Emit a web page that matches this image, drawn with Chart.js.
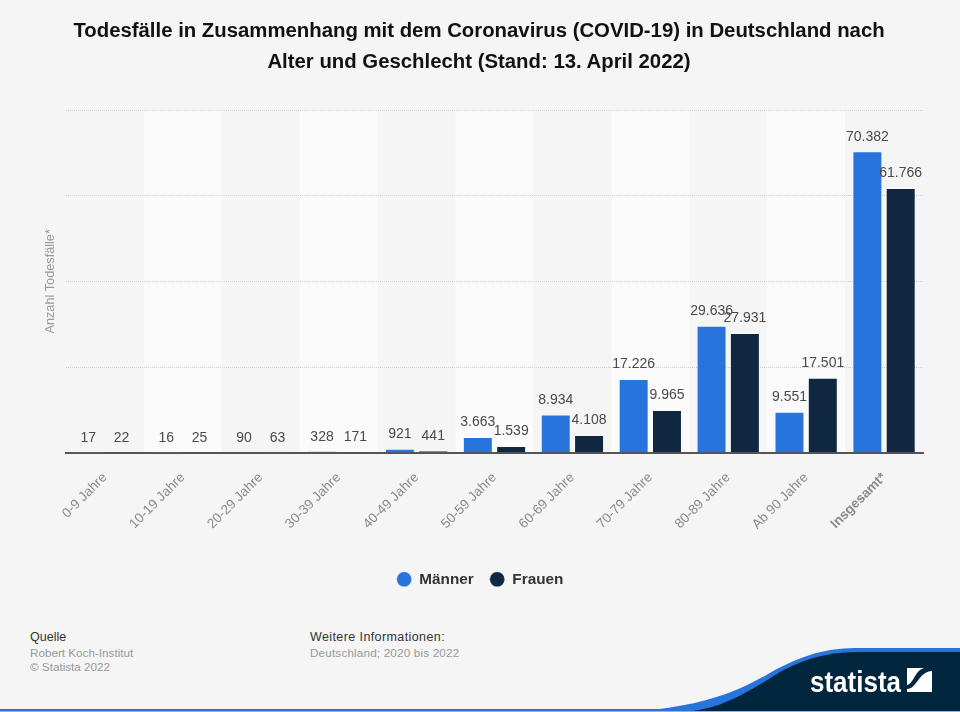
<!DOCTYPE html>
<html lang="de">
<head>
    <meta charset="UTF-8">
    <title>Todesfälle COVID-19 Deutschland</title>
    <script src="https://cdn.jsdelivr.net/npm/chart.js"></script>
    <style>
        html, body { margin: 0; padding: 0; background: #f5f5f5; }
        body { width: 960px; height: 712px; position: relative; overflow: hidden; font-family: "Liberation Sans", Arial, sans-serif; }
        #chart { position: absolute; left: 0; top: 0; }
        h1 {
            position: absolute; left: 0; top: 15px; width: 958px; margin: 0;
            text-align: center; font-size: 20.35px; line-height: 31px; font-weight: bold; color: #111;
        }
        .foot { position: absolute; white-space: nowrap; font-size: 11.7px; color: #999; }
        .foot.head { font-size: 12.5px; color: #333; }
        #swoosh { position: absolute; left: 0; top: 0; }
    </style>
</head>
<body>
    <canvas id="chart" width="960" height="597"></canvas>
    <h1>Todesfälle in Zusammenhang mit dem Coronavirus (COVID-19) in Deutschland nach<br>Alter und Geschlecht (Stand: 13. April 2022)</h1>

    <div class="foot head" style="left:30px;top:630px">Quelle</div>
    <div class="foot" style="left:30px;top:646px">Robert Koch-Institut</div>
    <div class="foot" style="left:30px;top:660px">© Statista 2022</div>
    <div class="foot head" style="left:310px;top:630px;letter-spacing:.4px">Weitere Informationen:</div>
    <div class="foot" style="left:310px;top:646px;letter-spacing:.17px">Deutschland; 2020 bis 2022</div>

    <svg id="swoosh" width="960" height="712" viewBox="0 0 960 712">
        <rect x="0" y="709" width="960" height="2.5" fill="#2874dc"/>
        <path d="M640 711 C700 706 735 694 775 670 C810 652 830 648 860 648 L960 648 L960 711 Z" fill="#2874dc"/>
        <path d="M693 711 C725 706 745 694 780 672 C812 655 835 652 860 652 L960 652 L960 711 Z" fill="#03263f"/>
        <text x="810" y="692" font-family="Liberation Sans Narrow, Liberation Sans" font-weight="bold" font-size="30" fill="#fff" textLength="91" lengthAdjust="spacingAndGlyphs">statista</text>
        <path d="M907 668 H932 V692 H907 Z" fill="#fff"/>
        <path d="M907 689 C917 689 918 672 932 671 V668 H925 C915 669 914 684 907 685 Z" fill="#03263f"/>
    </svg>

    <script>
        const categories = ['0-9 Jahre', '10-19 Jahre', '20-29 Jahre', '30-39 Jahre', '40-49 Jahre', '50-59 Jahre',
            '60-69 Jahre', '70-79 Jahre', '80-89 Jahre', 'Ab 90 Jahre', 'Insgesamt*'];
        const maenner = [17, 16, 90, 328, 921, 3663, 8934, 17226, 29636, 9551, 70382];
        const frauen = [22, 25, 63, 171, 441, 1539, 4108, 9965, 27931, 17501, 61766];

        // abwechselnde Streifen hinter den Balken
        const bands = {
            id: 'bands',
            beforeDraw(chart) {
                const { ctx, chartArea: a, scales: { x } } = chart;
                const w = a.width / categories.length;
                ctx.save();
                ctx.fillStyle = '#fbfbfb';
                categories.forEach((c, i) => {
                    if (i % 2 === 1) ctx.fillRect(x.getPixelForValue(i) - w / 2, a.top, w, a.height);
                });
                ctx.restore();
            }
        };

        // Werte über den Balken
        const valueLabels = {
            id: 'valueLabels',
            afterDatasetsDraw(chart) {
                const ctx = chart.ctx;
                ctx.save();
                ctx.font = '14px "Liberation Sans"';
                ctx.fillStyle = '#4a4a4a';
                ctx.textAlign = 'center';
                ctx.textBaseline = 'middle';
                chart.data.datasets.forEach((ds, d) => {
                    chart.getDatasetMeta(d).data.forEach((bar, i) => {
                        const txt = ds.data[i].toLocaleString('de-DE');
                        ctx.fillText(txt, bar.x, bar.y - 14.5);
                    });
                });
                ctx.restore();
            }
        };

        new Chart(document.getElementById('chart').getContext('2d'), {
            type: 'bar',
            data: {
                labels: categories,
                datasets: [
                    { label: 'Männer', data: maenner, backgroundColor: '#2874dc', borderColor: 'rgba(255,255,255,.35)', borderWidth: 1, categoryPercentage: 0.855, barPercentage: 0.9 },
                    { label: 'Frauen', data: frauen, backgroundColor: '#0f2740', borderColor: 'rgba(255,255,255,.35)', borderWidth: 1, categoryPercentage: 0.855, barPercentage: 0.9 }
                ]
            },
            plugins: [bands, valueLabels],
            options: {
                responsive: false,
                animation: false,
                layout: { padding: { top: 110, right: 37, left: 37, bottom: 0 } },
                plugins: {
                    tooltip: { enabled: false },
                    legend: {
                        position: 'bottom',
                        labels: {
                            usePointStyle: true,
                            pointStyle: 'circle',
                            boxHeight: 10.6,
                            boxWidth: 15,
                            padding: 16,
                            color: '#333',
                            font: { family: '"Liberation Sans"', size: 15.3, weight: 'bold' }
                        }
                    }
                },
                scales: {
                    x: {
                        afterFit(scale) { scale.height = 103; },
                        grid: { display: false },
                        border: { display: true, color: '#555', width: 2 },
                        ticks: {
                            minRotation: 45,
                            maxRotation: 45,
                            padding: 9,
                            color: '#8a8a8a',
                            font: ctx => ({
                                family: '"Liberation Sans"',
                                size: 13.5,
                                weight: ctx.index === categories.length - 1 ? 'bold' : 'normal'
                            })
                        }
                    },
                    y: {
                        min: 0,
                        max: 80000,
                        afterFit(scale) { scale.width = 29; },
                        title: {
                            display: true,
                            text: 'Anzahl Todesfälle*',
                            color: '#999',
                            padding: { top: 6, bottom: 0 },
                            font: { family: '"Liberation Sans"', size: 12.7 }
                        },
                        border: { display: false, dash: [1, 1] },
                        grid: { color: '#d0d0d0', lineWidth: 1, drawTicks: false },
                        ticks: { stepSize: 20000, display: false }
                    }
                }
            }
        });
    </script>
</body>
</html>
